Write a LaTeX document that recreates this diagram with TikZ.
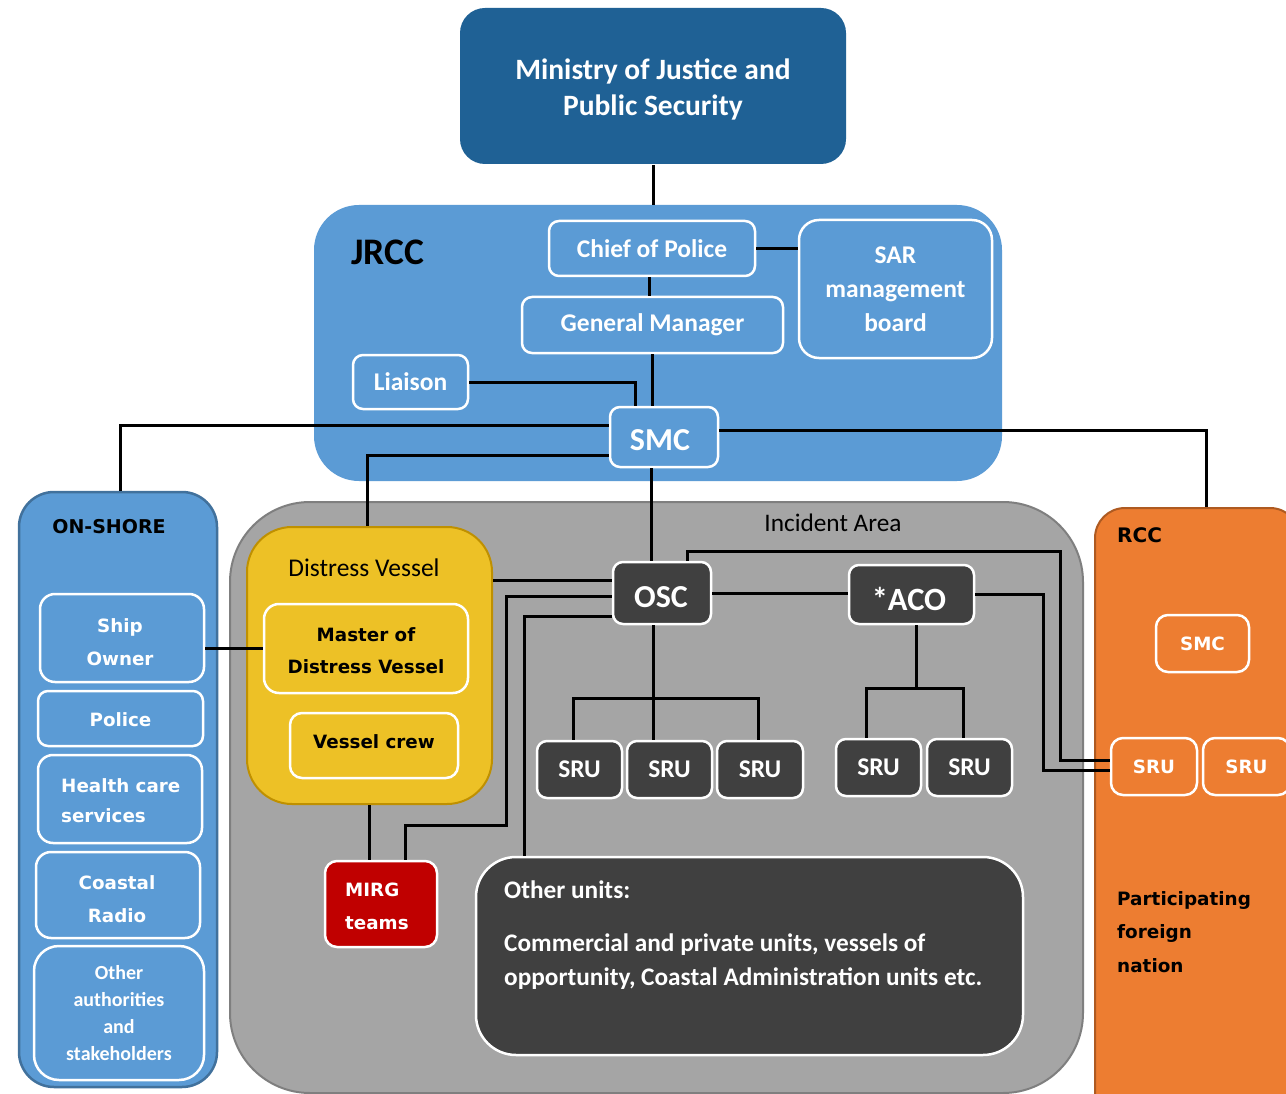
\documentclass[tikz,border=0pt]{standalone}
\usepackage{fontspec}
\setmainfont{Carlito}
\newfontfamily\dv{DejaVu Sans}
\newcommand\myfs[2]{\fontsize{#1}{#2}\selectfont}
\definecolor{minblue}{RGB}{31,97,149}
\definecolor{jblue}{RGB}{91,155,213}
\definecolor{jblued}{RGB}{65,113,156}
\definecolor{igray}{RGB}{165,165,165}
\definecolor{igrayd}{RGB}{127,127,127}
\definecolor{dgold}{RGB}{237,193,38}
\definecolor{dgoldd}{RGB}{191,144,0}
\definecolor{dkgray}{RGB}{64,64,64}
\definecolor{mred}{RGB}{192,0,0}
\definecolor{rorange}{RGB}{237,125,49}
\definecolor{rorangd}{RGB}{174,90,33}
\tikzset{
  cont/.style={rectangle, inner sep=0pt},
  wbox/.style={rectangle, draw=white, line width=2.5pt, rounded corners=10pt, inner sep=0pt, align=center, text=white},
  cbox/.style={wbox, font=\bfseries\myfs{25.5}{34}},
  dbox/.style={wbox, font=\dv\bfseries\myfs{18.3}{33}},
  gbox/.style={wbox, fill=dkgray},
  lbl/.style={inner sep=0pt, anchor=west},
  dtxt/.style={inner sep=0pt, align=center, text=white, font=\dv\bfseries\myfs{18.3}{33}},
  conn/.style={line width=3pt, black},
}
\begin{document}
\begin{tikzpicture}[x=1pt,y=-1pt]
\clip (0,0) rectangle (1286,1094);
\fill[white] (0,0) rectangle (1286,1094);

% containers
\node[cont, fill=jblue, rounded corners=45pt, minimum width=688pt, minimum height=276pt] (jrcc) at (658,343) {};
\node[cont, fill=jblue, draw=jblued, line width=2.5pt, rounded corners=35pt, minimum width=198pt, minimum height=595pt] (onshore) at (118,789.5) {};
\node[cont, fill=igray, draw=igrayd, line width=2pt, rounded corners=80pt, minimum width=853pt, minimum height=591pt] (inc) at (656.5,797.5) {};
\node[cont, fill=rorange, draw=rorangd, line width=2pt, rounded corners=30pt, minimum width=205pt, minimum height=622pt] (rcc) at (1197.5,819) {};
\node[cont, fill=dgold, draw=dgoldd, line width=2pt, rounded corners=45pt, minimum width=245pt, minimum height=277pt] (dv) at (369.5,665.5) {};

% Ministry
\node[wbox, draw=none, fill=minblue, rounded corners=25pt, minimum width=386pt, minimum height=156pt] (min) at (653,86) {};
\node[inner sep=0pt, align=center, text=white, font=\bfseries\myfs{29.5}{36}] (minl) at (653,89) {Ministry of Justice and\\Public Security};

% labels of containers
\node[lbl, font=\bfseries\myfs{37.5}{40}] (jrccl) at (351,252) {JRCC};
\node[inner sep=0pt, font=\dv\bfseries\myfs{19}{22}] (onl) at (109,527) {ON-SHORE};
\node[inner sep=0pt, font=\myfs{25.3}{28}] (incl) at (833,523) {Incident Area};
\node[inner sep=0pt, font=\myfs{25.5}{28}] (dvl) at (364,568) {Distress Vessel};
\node[lbl, font=\dv\bfseries\myfs{20}{22}] (rccl) at (1117,535) {RCC};
\node[lbl, align=left, font=\dv\bfseries\myfs{18.4}{33.5}] (pfn) at (1117,932) {Participating\\foreign\\nation};

% JRCC nodes
\node[cbox, minimum width=206pt, minimum height=55pt] (chief) at (652,248.5) {Chief of Police};
\node[cbox, minimum width=261pt, minimum height=56pt] (gm) at (652.5,325) {General Manager};
\node[cbox, rounded corners=20pt, minimum width=193pt, minimum height=138pt] (sar) at (895.5,289) {SAR\\management\\board};
\node[cbox, minimum width=115pt, minimum height=54pt] (liaison) at (410.5,382) {Liaison};
\node[cbox, minimum width=108pt, minimum height=60pt] (smc) at (664,437) {};
\node[inner sep=0pt, text=white, font=\bfseries\myfs{32}{34}] (smcl) at (660,440) {SMC};

% On-shore nodes
\node[dbox, rounded corners=15pt, minimum width=164pt, minimum height=88pt] (ship) at (122,638) {};
\node[dtxt] (shipl) at (120,642) {Ship\\Owner};
\node[dbox, minimum width=165pt, minimum height=55pt] (police) at (120.5,718.5) {};
\node[dtxt] (policel) at (120.5,720) {Police};
\node[dbox, rounded corners=15pt, minimum width=164pt, minimum height=88pt] (health) at (120,799) {};
\node[lbl, align=left, font=\dv\bfseries\myfs{18.3}{30}, text=white] (healthl) at (61,801) {Health care\\services};
\node[dbox, rounded corners=15pt, minimum width=164pt, minimum height=86pt] (coastal) at (118,895) {};
\node[dtxt] (coastall) at (117,899) {Coastal\\Radio};
\node[wbox, rounded corners=25pt, font=\bfseries\myfs{20}{27}, minimum width=170pt, minimum height=134pt] (oth) at (119,1013) {Other\\authorities\\and\\stakeholders};

% Distress vessel nodes
\node[dbox, fill=dgold, text=black, rounded corners=15pt, minimum width=204pt, minimum height=89pt] (master) at (366,648.5) {};
\node[dtxt, text=black, font=\dv\bfseries\myfs{18.3}{32}] (masterl) at (366,651) {Master of\\Distress Vessel};
\node[dbox, fill=dgold, text=black, rounded corners=12pt, minimum width=168pt, minimum height=65pt] (crew) at (374,745.5) {};
\node[inner sep=0pt, font=\dv\bfseries\myfs{18.3}{22}] (crewl) at (374,742) {Vessel crew};
\node[dbox, fill=mred, rounded corners=12pt, minimum width=112pt, minimum height=86pt] (mirg) at (381,904) {};
\node[lbl, align=left, font=\dv\bfseries\myfs{18.3}{33}, text=white] (mirgl) at (345,906) {MIRG\\teams};

% Incident area nodes
\node[gbox, minimum width=98pt, minimum height=62pt] (osc) at (662,593) {};
\node[inner sep=0pt, text=white, font=\bfseries\myfs{32}{34}] (oscl) at (661,597) {OSC};
\node[gbox, minimum width=125pt, minimum height=59pt] (aco) at (911.5,594.5) {};
\node[inner sep=0pt, text=white, font=\bfseries\myfs{32.5}{34}] (acol) at (909,599) {*ACO};
\node[gbox, font=\bfseries\myfs{25.5}{30}, minimum width=85pt, minimum height=57pt] (sru1) at (579.5,769.5) {SRU};
\node[gbox, font=\bfseries\myfs{25.5}{30}, minimum width=85pt, minimum height=57pt] (sru2) at (669.5,769.5) {SRU};
\node[gbox, font=\bfseries\myfs{25.5}{30}, minimum width=86pt, minimum height=57pt] (sru3) at (760,769.5) {SRU};
\node[gbox, font=\bfseries\myfs{25.5}{30}, minimum width=85pt, minimum height=57pt] (sru4) at (878.5,767.5) {SRU};
\node[gbox, font=\bfseries\myfs{25.5}{30}, minimum width=85pt, minimum height=57pt] (sru5) at (969.5,767.5) {SRU};
\node[gbox, rounded corners=40pt, minimum width=547pt, minimum height=198pt] (other) at (749.5,956) {};
\node[lbl, text=white, font=\bfseries\myfs{25.3}{26}] (otherh) at (504,890) {Other units:};
\node[lbl, text=white, align=left, font=\bfseries\myfs{25.3}{34}] (othert) at (504,962) {Commercial and private units, vessels of\\opportunity, Coastal Administration units etc.};

% RCC nodes
\node[dbox, rounded corners=12pt, minimum width=93pt, minimum height=57pt] (rsmc) at (1202.5,643.5) {SMC};
\node[dbox, rounded corners=12pt, minimum width=86pt, minimum height=57pt] (rsru1) at (1154,766.5) {SRU};
\node[dbox, rounded corners=12pt, minimum width=87pt, minimum height=57pt] (rsru2) at (1246.5,766.5) {SRU};

% helper coordinates
\coordinate (k1) at (506,825);
\coordinate (k2) at (1060,551);
\coordinate (k3) at (1043,598);
\coordinate (t1) at (653,698);
\coordinate (t2) at (916,688);

% connectors
\draw[conn] (min.south) -- (min.south |- jrcc.north);
\draw[conn] (chief.east) -- (chief.east -| sar.west);
\draw[conn] ([xshift=-3pt]chief.south) -- ([xshift=-3pt]chief.south |- gm.north);
\draw[conn] (gm.south) -- (gm.south |- smc.north);
\draw[conn] (liaison.east) -| ([xshift=-29pt]smc.north);
\draw[conn] ([yshift=12pt]smc.west) -| ([xshift=2pt]onshore.north);
\draw[conn] ([yshift=-18pt]smc.west) -| ([xshift=-2.5pt]dv.north);
\draw[conn] ([yshift=7pt]smc.east) -| ([xshift=8.5pt]rcc.north);
\draw[conn] ([xshift=-13pt]smc.south) -- ([xshift=-13pt]smc.south |- osc.north);
\draw[conn] ([yshift=13pt]osc.west) -- ([yshift=13pt]osc.west -| dv.east);
\draw[conn] ([yshift=-3pt]osc.west) -| (k1) -| ([xshift=24pt]mirg.north);
\draw[conn] ([yshift=-23pt]osc.west) -| ([xshift=-225.5pt]other.north);
\draw[conn] (dv.south) -- (dv.south |- mirg.north);
\draw[conn] (master.west) -- (master.west -| ship.east);
\draw[conn] (osc.east) -- (osc.east -| aco.west);
\draw[conn] ([xshift=25pt]osc.north) |- (k2) |- ([yshift=6.5pt]rsru1.west);
\draw[conn] (aco.east) -- (aco.east -| k3) |- ([yshift=-3.5pt]rsru1.west);
\draw[conn] ([xshift=-9pt]osc.south) -- ([xshift=-9pt]osc.south |- sru2.north);
\draw[conn] ([xshift=-6.5pt]sru1.north) |- (t1) -| ([xshift=-2pt]sru3.north);
\draw[conn] ([xshift=4.5pt]aco.south) -- (t2);
\draw[conn] ([xshift=-12.5pt]sru4.north) |- (t2) -| ([xshift=-6.5pt]sru5.north);
\end{tikzpicture}
\end{document}
